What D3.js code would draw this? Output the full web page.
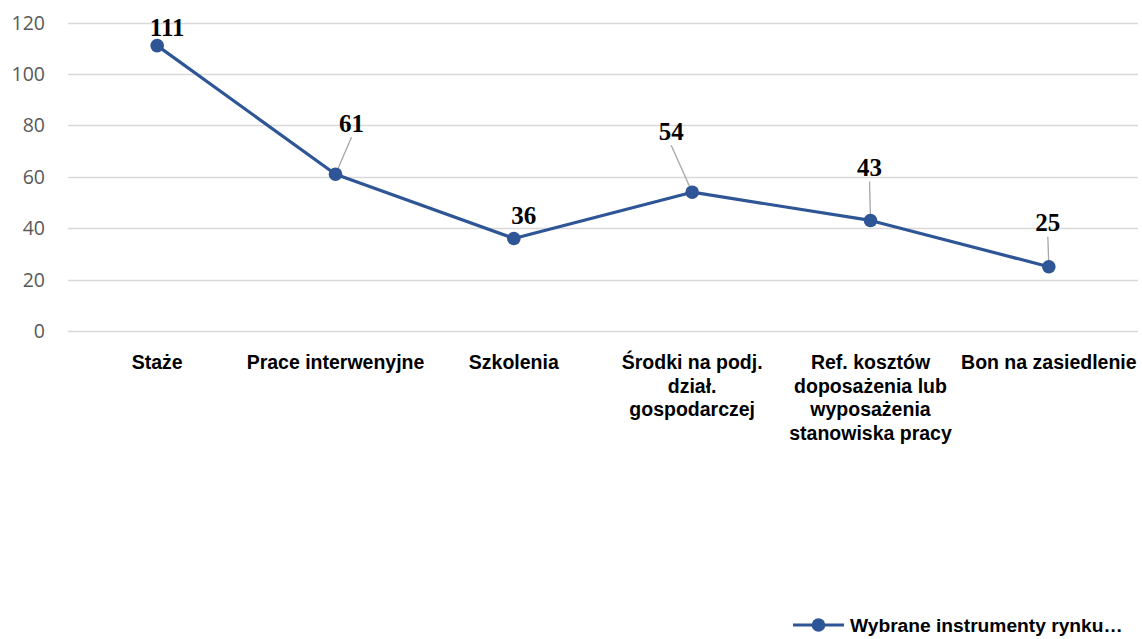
<!DOCTYPE html>
<html>
<head>
<meta charset="utf-8">
<script src="https://cdn.jsdelivr.net/npm/d3@7"></script>
<style>
  body { margin: 0; background: #fff; }
  svg { display: block; }
</style>
</head>
<body>
<div id="chart"></div>
<script>
var width = 1142;
var height = 639;

var categories = [
    ["Staże"],
    ["Prace interwenyjne"],
    ["Szkolenia"],
    ["Środki na podj.", "dział.", "gospodarczej"],
    ["Ref. kosztów", "doposażenia lub", "wyposażenia", "stanowiska pracy"],
    ["Bon na zasiedlenie"]
];
var values = [111, 61, 36, 54, 43, 25];
var yTicks = [0, 20, 40, 60, 80, 100, 120];
var seriesName = "Wybrane instrumenty rynku…";

// label placement relative to the point (dx, dy) and whether a leader line is drawn
var labelOffsets = [[10, -18, false], [16, -51, true], [10, -23, false], [-21, -61, true], [-1, -53, true], [-1, -44, true]];

var lineColor = "#2E5596";

var svg = d3.select("#chart")
    .append("svg")
    .attr("width", width)
    .attr("height", height);

var x = d3.scalePoint()
    .domain(d3.range(categories.length))
    .range([68, 1138])
    .padding(0.5);

var y = d3.scaleLinear()
    .domain([0, 120])
    .range([331, 22.5]);

// gridlines
svg.append("g")
    .selectAll("line")
    .data(yTicks)
    .enter().append("line")
    .attr("x1", 68)
    .attr("x2", 1138)
    .attr("y1", d => Math.round(y(d)) + 0.5)
    .attr("y2", d => Math.round(y(d)) + 0.5)
    .style("stroke", "#d9d9d9")
    .style("stroke-width", 1.3);

// y tick labels
svg.append("g")
    .selectAll("text")
    .data(yTicks)
    .enter().append("text")
    .attr("x", 45)
    .attr("y", d => y(d))
    .attr("dy", "0.36em")
    .attr("text-anchor", "end")
    .style("font-family", "'Open Sans', 'Liberation Sans', sans-serif")
    .style("font-size", "19.5px")
    .style("fill", "#595959")
    .text(d => d);

// category labels
var cat = svg.append("g")
    .selectAll("text")
    .data(categories)
    .enter().append("text")
    .attr("text-anchor", "middle")
    .style("font-family", "'Liberation Sans', Arial, sans-serif")
    .style("font-weight", "bold")
    .style("font-size", "19.5px")
    .style("fill", "#000");

cat.selectAll("tspan")
    .data((d, i) => d.map(t => ({ t: t, i: i })))
    .enter().append("tspan")
    .attr("x", d => x(d.i))
    .attr("y", (d, j) => 369 + j * 23.6)
    .text(d => d.t);

// series line
var line = d3.line()
    .x((d, i) => x(i))
    .y(d => y(d));

svg.append("path")
    .datum(values)
    .attr("d", line)
    .style("fill", "none")
    .style("stroke", lineColor)
    .style("stroke-width", 3.2)
    .style("stroke-linejoin", "round");

// leader lines
svg.append("g")
    .selectAll("line")
    .data(values.map((v, i) => ({ v: v, i: i, o: labelOffsets[i] })).filter(d => d.o[2]))
    .enter().append("line")
    .attr("x1", d => x(d.i))
    .attr("y1", d => y(d.v))
    .attr("x2", d => x(d.i) + d.o[0])
    .attr("y2", d => y(d.v) + d.o[1] + 14)
    .style("stroke", "#a6a6a6")
    .style("stroke-width", 1.3);

// markers
svg.append("g")
    .selectAll("circle")
    .data(values)
    .enter().append("circle")
    .attr("cx", (d, i) => x(i))
    .attr("cy", d => y(d))
    .attr("r", 6.8)
    .style("fill", lineColor);

// data labels
svg.append("g")
    .selectAll("text")
    .data(values)
    .enter().append("text")
    .attr("x", (d, i) => x(i) + labelOffsets[i][0])
    .attr("y", (d, i) => y(d) + labelOffsets[i][1])
    .attr("dy", "0.35em")
    .attr("text-anchor", "middle")
    .style("font-family", "'Liberation Serif', 'Times New Roman', serif")
    .style("font-weight", "bold")
    .style("font-size", "25px")
    .style("fill", "#000")
    .text(d => d);

// legend
var legend = svg.append("g").attr("transform", "translate(793,625)");
legend.append("line")
    .attr("x1", 0).attr("x2", 51)
    .style("stroke", lineColor)
    .style("stroke-width", 3.2);
legend.append("circle")
    .attr("cx", 25.5)
    .attr("r", 6.8)
    .style("fill", lineColor);
legend.append("text")
    .attr("x", 57)
    .attr("dy", "0.36em")
    .style("font-family", "'Liberation Sans', Arial, sans-serif")
    .style("font-weight", "bold")
    .style("font-size", "19.2px")
    .style("fill", "#000")
    .text(seriesName);
</script>
</body>
</html>
